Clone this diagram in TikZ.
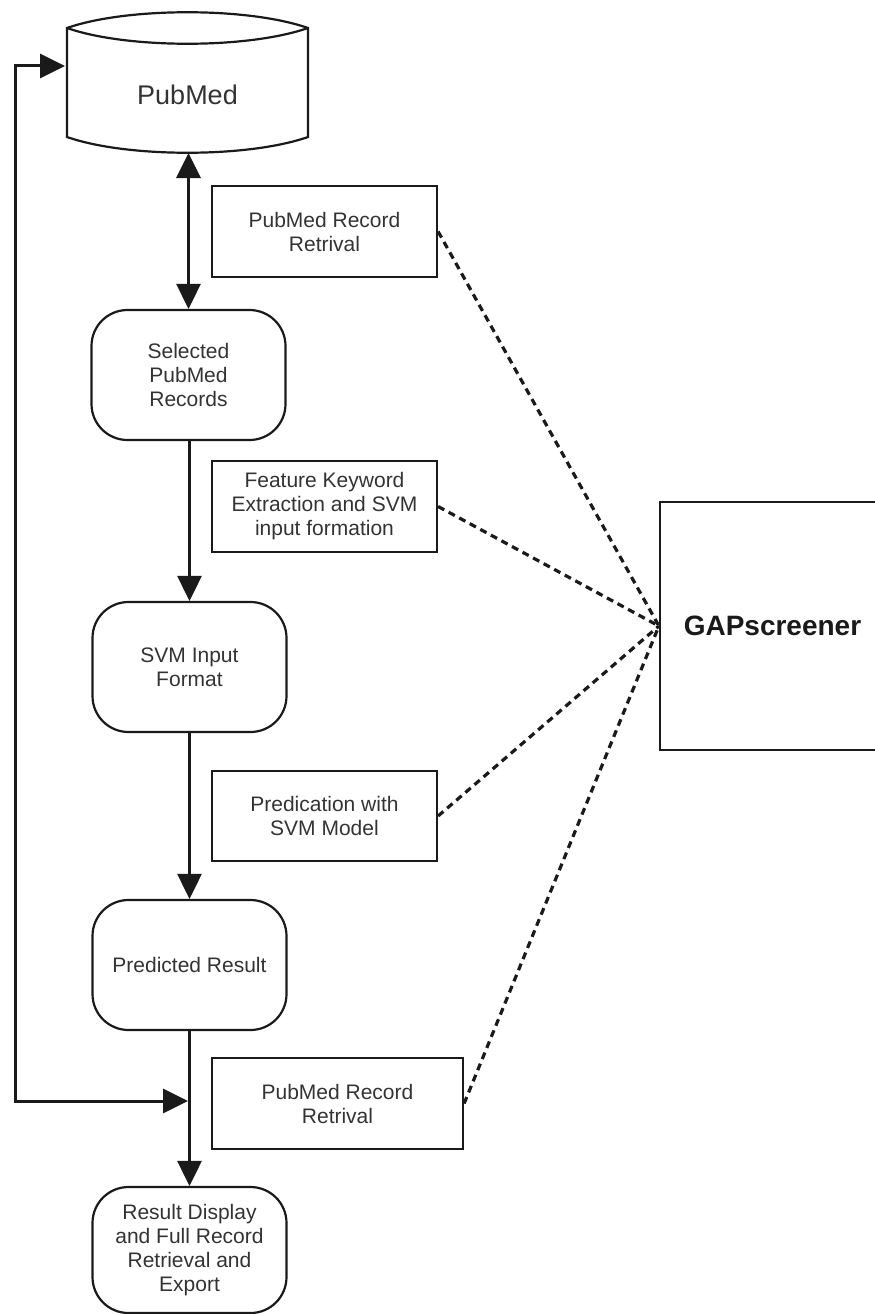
\documentclass[tikz,border=0pt]{standalone}
\usepackage{fontspec}
\setmainfont{Liberation Sans}
\usetikzlibrary{arrows.meta}
\definecolor{ink}{HTML}{1A1A1A}
\definecolor{txt}{HTML}{333333}
\tikzset{
  boxtext/.style={font=\fontsize{21}{24}\selectfont, text=txt, align=center, inner sep=0pt},
  recbox/.style={boxtext, draw=ink, line width=2.2pt, rectangle},
  roundbox/.style={boxtext, draw=ink, line width=2.2pt, rectangle, rounded corners=36pt},
  flow/.style={draw=ink, line width=3pt, -{Triangle[length=25pt,width=24pt]}},
  both/.style={draw=ink, line width=3pt, {Triangle[length=25pt,width=24pt]}-{Triangle[length=25pt,width=24pt]}},
  link/.style={draw=ink, line width=3.2pt, dash pattern=on 7pt off 5pt},
}
\begin{document}
\begin{tikzpicture}[x=1pt,y=-1pt]
\useasboundingbox (0,0) rectangle (875,1314);

% PubMed cylinder
\draw[ink, line width=2.2pt, fill=white]
  (67,28) .. controls (127,7) and (248,7) .. (308,28)
  -- (308,137) .. controls (248,158) and (127,158) .. (67,137) -- cycle;
\draw[ink, line width=2.2pt] (67,28) .. controls (127,49) and (248,49) .. (308,28);
\node[font=\fontsize{27}{30}\selectfont, text=txt, inner sep=0pt] (pubmed) at (187.5,95) {PubMed};
\coordinate (cylbot) at (188.5,153);
\coordinate (cylleft) at (65,66);

% process boxes
\node[roundbox, minimum width=194pt, minimum height=130pt] (sel) at (188.5,375) {Selected\\PubMed\\Records};
\node[roundbox, minimum width=194pt, minimum height=130pt] (svmin) at (189.5,667) {SVM Input\\Format};
\node[roundbox, minimum width=194pt, minimum height=130pt] (predres) at (189.5,965) {Predicted Result};
\node[roundbox, minimum width=194pt, minimum height=126pt] (result) at (189.5,1250) {Result Display\\and Full Record\\Retrieval and\\Export};

% step label boxes
\node[recbox, minimum width=225pt, minimum height=91pt] (rec1) at (324.5,231.5) {PubMed Record\\Retrival};
\node[recbox, minimum width=225pt, minimum height=91pt] (feat) at (324.5,506.5) {Feature Keyword\\Extraction and SVM\\input formation};
\node[recbox, minimum width=225pt, minimum height=90pt] (predic) at (324.5,816) {Predication with\\SVM Model};
\node[recbox, minimum width=251pt, minimum height=91pt] (rec2) at (337.5,1103.5) {PubMed Record\\Retrival};

% GAPscreener
\node[draw=ink, line width=2.2pt, minimum width=225pt, minimum height=248pt, inner sep=0pt,
      font=\fontsize{28}{30}\selectfont\bfseries, text=ink] (gap) at (772.5,626) {GAPscreener};

% main flow
\draw[both] (cylbot) -- (sel.north);
\draw[flow] (sel.south -| svmin.north) -- (svmin.north);
\draw[flow] (svmin.south) -- (predres.north);
\draw[flow] (predres.south) -- (result.north);

% feedback loop
\coordinate (join) at (188,1101);
\draw[both] (join) -- (15,1101) -- (15,66) -- (cylleft);

% dashed links to GAPscreener
\draw[link] (rec1.east) -- (gap.west);
\draw[link] (feat.east) -- (gap.west);
\draw[link] (predic.east) -- (gap.west);
\draw[link] (rec2.east) -- (gap.west);
\end{tikzpicture}
\end{document}
